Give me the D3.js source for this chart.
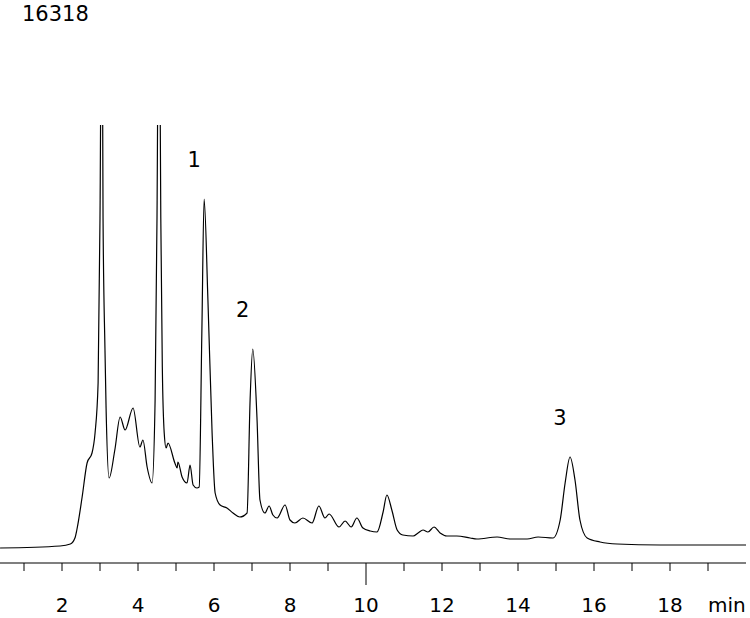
<!DOCTYPE html>
<html>
<head>
<meta charset="utf-8">
<script src="https://cdn.jsdelivr.net/npm/d3@7"></script>
<style>
body { margin: 0; background: #fff; }
text { font-family: "DejaVu Sans", Verdana, sans-serif; fill: #000; }
</style>
</head>
<body>
<svg id="chart" width="750" height="618"></svg>
<script>
// retention time (min) and detector signal
var times = [0.37, 1.95, 2.22, 2.34, 2.39, 2.53, 2.66, 2.79, 2.87, 2.95, 3.0, 3.05, 3.08, 3.13, 3.16, 3.24,
  3.39, 3.53, 3.66, 3.87, 4.05, 4.13, 4.24, 4.37, 4.45, 4.50, 4.55, 4.60, 4.64, 4.69, 4.74, 4.79,
  4.97, 5.03, 5.05, 5.16, 5.29, 5.37, 5.45, 5.55, 5.61, 5.68, 5.74, 5.84, 5.95, 6.03, 6.16, 6.34,
  6.5, 6.68, 6.87, 6.95, 7.02, 7.13, 7.21, 7.34, 7.45, 7.55, 7.66, 7.87, 8.0, 8.13, 8.34, 8.58,
  8.76, 8.92, 9.03, 9.29, 9.45, 9.61, 9.76, 9.92, 10.11, 10.29, 10.45, 10.55, 10.68, 10.82, 10.97,
  11.24, 11.37, 11.5, 11.63, 11.79, 11.95, 12.13, 12.39, 12.74, 12.92, 13.45, 13.79, 14.24, 14.53,
  14.92, 15.11, 15.24, 15.37, 15.5, 15.63, 15.82, 16.16, 16.61, 17.74, 20.0];
var signal = [0, 2, 4, 10, 18, 51, 85, 95, 115, 165, 330, 620, 330, 200, 140, 70,
  98, 131, 118, 140, 101, 108, 81, 65, 148, 330, 620, 330, 181, 115, 100, 105,
  85, 80, 86, 71, 65, 83, 63, 60, 61, 215, 349, 248, 115, 55, 43, 40,
  35, 31, 35, 148, 199, 131, 48, 35, 42, 33, 30, 43, 28, 25, 30, 25,
  42, 30, 34, 21, 27, 21, 30, 20, 17, 16, 36, 53, 38, 18, 13,
  12, 15, 18, 16, 21, 15, 12, 12, 10, 9, 11, 9, 9, 11,
  10, 28, 65, 91, 68, 28, 10, 6, 4, 3, 3];
var tickLabels = [2, 4, 6, 8, 10, 12, 14, 16, 18];
var peakLabels = ["1", "2", "3"];
var peakTimes = [5.74, 7.02, 15.37];
var peakHeights = [349, 199, 91];

var svg = d3.select("#chart");
var x = d3.scaleLinear().domain([0, 20]).range([-14, 746]);
var y = d3.scaleLinear().domain([0, 423]).range([548, 125]);

svg.append("defs").append("clipPath").attr("id", "clip")
  .append("rect").attr("x", 0).attr("y", 125).attr("width", 750).attr("height", 440);

var pts = times.map(function (t, i) { return [t, signal[i]]; });
var line = d3.line()
  .x(function (d) { return x(d[0]); })
  .y(function (d) { return y(d[1]); })
  .curve(d3.curveMonotoneX);

svg.append("path").datum(pts)
  .attr("clip-path", "url(#clip)")
  .attr("d", line)
  .attr("fill", "none")
  .attr("stroke", "#000")
  .attr("stroke-width", 1.2);

// axis
var axisY = 563;
svg.append("line").attr("x1", 0).attr("x2", 746)
  .attr("y1", axisY).attr("y2", axisY).attr("stroke", "#000").attr("stroke-width", 1.2);
svg.selectAll(".tick").data(d3.range(1, 20)).enter().append("line")
  .attr("x1", function (d) { return x(d); }).attr("x2", function (d) { return x(d); })
  .attr("y1", axisY).attr("y2", function (d) { return d === 10 ? axisY + 22 : axisY + 8; })
  .attr("stroke", "#000").attr("stroke-width", 1);
svg.selectAll(".tl").data(tickLabels).enter().append("text")
  .attr("x", function (d) { return x(d); }).attr("y", 612)
  .attr("text-anchor", "middle").attr("font-size", 20)
  .text(function (d) { return d; });
svg.append("text").attr("x", 708).attr("y", 612).attr("font-size", 20).text("min");

svg.selectAll(".pl").data(peakLabels).enter().append("text")
  .attr("x", function (d, i) { return x(peakTimes[i]) - 10; })
  .attr("y", function (d, i) { return y(peakHeights[i]) - 32; })
  .attr("text-anchor", "middle").attr("font-size", 21)
  .text(function (d) { return d; });

svg.append("text").attr("x", 22).attr("y", 21).attr("font-size", 21).text("16318");
</script>
</body>
</html>
